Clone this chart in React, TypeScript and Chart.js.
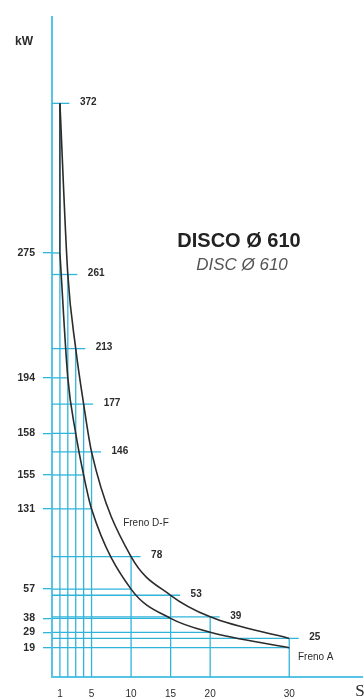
import React, { useEffect, useRef } from "react";
import { Chart, registerables } from "chart.js";
Chart.register(...registerables);

// ---- data ----
const timeS = [1, 2, 3, 4, 5, 10, 15, 20, 30];
const frenoDF = [372, 261, 213, 177, 146, 78, 53, 39, 25];
const frenoA = [275, 194, 158, 131, 109, 57, 38, 29, 19];
const leftTickLabels = ["275", "194", "158", "155", "131", "57", "38", "29", "19"];
const rightLabels = ["372", "261", "213", "177", "146", "78", "53", "39", "25"];
const xTickValues = [1, 5, 10, 15, 20, 30];
const xTickLabels = ["1", "5", "10", "15", "20", "30"];
const titleMain = "DISCO Ø 610";
const titleSub = "DISC Ø 610";
const yUnit = "kW";
const xUnit = "S";
const curveNames = ["Freno D-F", "Freno A"];

const BLUE = "#30b4da";
const AXIS_BLUE = "#55c4e6";
const INK = "#2b2b2b";
const FONT = "'Liberation Sans', Arial, sans-serif";

export default function App() {
  const ref = useRef<HTMLCanvasElement>(null);

  useEffect(() => {
    if (!ref.current) return;

    const grid: any[] = [];
    timeS.forEach((x, i) => {
      grid.push({ data: [{ x, y: 0 }, { x, y: frenoDF[i] }] });
      grid.push({ data: [{ x: 0, y: frenoDF[i] }, { x: x + 1.2, y: frenoDF[i] }] });
      grid.push({ data: [{ x: 0, y: frenoA[i] }, { x: x, y: frenoA[i] }] });
    });

    const gridSets = grid.map((g) => ({
      ...g,
      borderColor: BLUE,
      borderWidth: 1.3,
      pointRadius: 0,
      tension: 0,
      order: 2,
    }));

    const curveStyle = {
      borderColor: INK,
      borderWidth: 1.6,
      pointRadius: 0,
      cubicInterpolationMode: "monotone" as const,
      order: 0,
    };

    const labelsPlugin = {
      id: "labels",
      afterDatasetsDraw(chart: any) {
        const { ctx, scales, chartArea } = chart;
        const xs = scales.x;
        const ys = scales.y;
        ctx.save();
        ctx.fillStyle = INK;
        ctx.textBaseline = "middle";
        ctx.textAlign = "left";
        ctx.font = `bold 10px ${FONT}`;
        timeS.forEach((x, i) => {
          ctx.fillText(rightLabels[i], xs.getPixelForValue(x) + 20, ys.getPixelForValue(frenoDF[i]) - 1);
        });
        ctx.font = `10px ${FONT}`;
        ctx.fillText(curveNames[0], xs.getPixelForValue(9), ys.getPixelForValue(100));
        ctx.fillText(curveNames[1], xs.getPixelForValue(31.1), ys.getPixelForValue(13));

        ctx.font = `bold 12px ${FONT}`;
        ctx.textAlign = "center";
        ctx.fillText(yUnit, chartArea.left - 28, chartArea.top + 25);
        ctx.font = `17px 'Liberation Serif', serif`;
        ctx.fillText(xUnit, chartArea.right - 2, chartArea.bottom + 15);

        ctx.font = `bold 20px ${FONT}`;
        ctx.fillStyle = "#222";
        ctx.fillText(titleMain, 239, 241);
        ctx.font = `italic 17px ${FONT}`;
        ctx.fillStyle = "#555";
        ctx.fillText(titleSub, 242, 265);
        ctx.restore();
      },
    };

    const chart = new Chart(ref.current, {
      type: "line",
      data: {
        datasets: [
          { label: curveNames[0], data: timeS.map((x, i) => ({ x, y: frenoDF[i] })), ...curveStyle },
          { label: curveNames[1], data: timeS.map((x, i) => ({ x, y: frenoA[i] })), ...curveStyle },
          {
            label: "start",
            data: [{ x: timeS[0], y: frenoDF[0] }, { x: timeS[0], y: frenoA[0] }],
            borderColor: INK,
            borderWidth: 1.4,
            pointRadius: 0,
            order: 1,
          },
          ...gridSets,
        ] as any,
      },
      options: {
        responsive: false,
        animation: false,
        layout: { padding: { top: 17, right: 2, left: 0, bottom: 0 } },
        plugins: { legend: { display: false }, tooltip: { enabled: false } },
        scales: {
          x: {
            type: "linear",
            min: 0,
            max: 39.2,
            afterFit(axis: any) {
              axis.height = 22;
            },
            afterBuildTicks(axis: any) {
              axis.ticks = xTickValues.map((v) => ({ value: v }));
            },
            ticks: {
              padding: 3,
              autoSkip: false,
              maxRotation: 0,
              color: INK,
              font: { family: FONT, size: 10 },
              callback: (v: any) => {
                const i = xTickValues.indexOf(Number(v));
                return i >= 0 ? xTickLabels[i] : "";
              },
            },
            grid: { display: false },
            border: { display: true, color: AXIS_BLUE, width: 2 },
          },
          y: {
            type: "linear",
            min: 0,
            max: 428,
            afterFit(axis: any) {
              axis.width = 52;
            },
            afterBuildTicks(axis: any) {
              axis.ticks = [...frenoA].sort((a, b) => a - b).map((v) => ({ value: v }));
            },
            ticks: {
              padding: 8,
              autoSkip: false,
              color: INK,
              font: { family: FONT, size: 10.5, weight: "bold" },
              callback: (v: any) => {
                const i = frenoA.indexOf(Number(v));
                return i >= 0 ? leftTickLabels[i] : "";
              },
            },
            grid: {
              display: true,
              drawOnChartArea: false,
              drawTicks: true,
              tickLength: 9,
              color: BLUE,
              lineWidth: 1.3,
            },
            border: { display: true, color: AXIS_BLUE, width: 2 },
          },
        },
      },
      plugins: [labelsPlugin],
    });

    return () => chart.destroy();
  }, []);

  return (
    <div style={{ position: "fixed", left: 0, top: 0, width: 364, height: 699, background: "#fff" }}>
      <canvas ref={ref} width={364} height={699} style={{ display: "block" }} />
    </div>
  );
}
